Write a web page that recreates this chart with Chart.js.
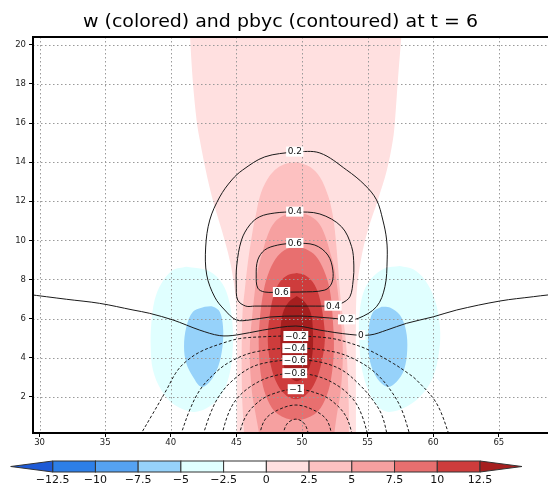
<!DOCTYPE html>
<html><head><meta charset="utf-8">
<script src="https://cdn.jsdelivr.net/npm/chart.js@4/dist/chart.umd.min.js"></script>
<style>html,body{margin:0;padding:0;overflow:hidden;background:#fff;width:548px;height:487px}
#wrap{position:relative;width:600px;height:487px}</style>
</head><body><div id="wrap"><canvas id="c" width="600" height="487"></canvas></div>
<script>
const titleText = 'w (colored) and pbyc (contoured) at t = 6';
const xTicks = [30,35,40,45,50,55,60,65];
const yTicks = [2,4,6,8,10,12,14,16,18,20];
const xRange = [29.5, 70.5];
const yRange = [0.15, 20.4];
const levelLabels = ['\u221212.5','\u221210','\u22127.5','\u22125','\u22122.5','0','2.5','5','7.5','10','12.5'];
const levelColors = ['#1e5ad6','#2d7fe8','#55a2f2','#96d2fa','#e0ffff','#ffffff','#ffe0e0','#fdc1c1','#f6a0a0','#e86f6f','#ce3c3c','#a61f1f'];

// filled w regions (x, z)
const wAbove0 = [[41.35,22.5],[41.40,21.5],[41.44,20.77],[41.67,18.21],[41.98,16.06],[42.21,15.14],[42.66,13.60],[43.20,12.07],[43.88,10.53],[44.49,9.00],[44.88,7.46],[45.03,5.93],[45.03,2.5],[45.03,0.5],[45.03,-1],[45.03,-2],[45.03,-3],[54.11,-3],[54.11,-2],[54.11,-1],[54.11,0.5],[54.11,2.5],[54.11,5.93],[54.18,7.46],[54.49,9.00],[55.02,10.53],[55.78,12.07],[56.47,13.60],[56.93,15.14],[57.08,16.06],[57.31,18.21],[57.61,20.77],[57.68,21.5],[57.75,22.5],[41.35,22.5]];
const wAbove2_5 = [[49.60,14.01],[48.69,13.91],[47.93,13.60],[47.24,12.99],[46.78,12.22],[46.48,11.30],[46.25,10.53],[45.87,8.84],[45.64,7.46],[45.48,6.44],[45.41,4.90],[45.41,2.86],[45.48,1.32],[45.60,0.0],[45.65,-1],[45.70,-2],[45.71,-3],[53.57,-3],[53.57,-2],[53.57,-1],[53.57,0.0],[53.57,1.32],[53.50,2.86],[53.34,4.90],[53.04,6.44],[52.88,7.46],[52.73,8.84],[52.50,10.53],[52.27,11.55],[51.97,12.32],[51.36,13.24],[50.60,13.76],[49.60,14.01]];
const wAbove5 = [[49.60,11.40],[48.69,11.30],[47.93,10.94],[47.39,10.28],[46.93,9.25],[46.63,8.48],[46.25,6.44],[46.02,4.39],[46.17,2.34],[46.48,1.06],[46.75,0.0],[46.85,-1],[46.90,-2],[46.93,-3],[52.20,-3],[52.25,-2],[52.35,-1],[52.45,0.0],[52.65,1.06],[52.96,2.34],[53.11,4.39],[52.88,6.44],[52.50,8.48],[52.20,9.25],[51.74,10.28],[51.21,10.94],[50.44,11.30],[49.60,11.40]];
const wAbove7_5 = [[49.60,9.66],[48.84,9.56],[48.15,9.20],[47.54,8.48],[47.09,7.46],[46.78,5.93],[46.71,4.39],[46.93,2.86],[47.39,1.83],[48.15,1.12],[49.53,0.81],[50.98,1.12],[51.74,1.83],[52.20,2.86],[52.43,4.39],[52.35,5.93],[52.12,7.46],[51.66,8.48],[51.05,9.20],[50.29,9.56],[49.60,9.66]];
const wAbove10 = [[49.60,8.33],[48.92,8.23],[48.31,7.87],[47.85,7.21],[47.54,6.18],[47.39,4.90],[47.62,3.62],[48.15,2.60],[48.84,2.04],[49.53,1.88],[50.21,2.04],[50.90,2.60],[51.44,3.62],[51.74,4.90],[51.59,6.18],[51.28,7.21],[50.82,7.87],[50.21,8.23],[49.60,8.33]];
const wAbove12_5 = [[49.60,7.15],[48.99,6.85],[48.54,6.28],[48.38,5.52],[48.38,4.39],[48.61,3.57],[49.07,3.01],[49.60,2.80],[50.14,3.01],[50.60,3.57],[50.82,4.39],[50.82,5.52],[50.67,6.28],[50.21,6.85],[49.60,7.15]];
const wBelowM2_5Left = [[41.19,8.65],[40.17,8.48],[39.28,7.80],[38.77,6.95],[38.52,5.77],[38.47,4.56],[38.64,3.37],[39.28,2.34],[40.30,1.58],[41.69,1.23],[42.72,1.41],[43.73,2.00],[44.36,2.86],[44.70,4.22],[44.70,5.76],[44.36,7.12],[43.73,7.97],[42.72,8.48],[41.19,8.65]];
const wBelowM5Left = [[42.59,6.61],[41.69,6.35],[41.19,5.58],[41.01,4.56],[41.19,3.71],[41.69,3.03],[42.33,2.51],[42.97,2.77],[43.60,3.53],[43.94,4.56],[43.98,5.58],[43.73,6.35],[43.22,6.61],[42.59,6.61]];
const wBelowM2_5Right = [[57.46,8.69],[56.32,8.57],[55.30,8.06],[54.66,7.29],[54.36,6.09],[54.36,4.90],[54.54,3.53],[55.04,2.34],[55.81,1.49],[56.57,1.23],[57.71,1.41],[58.99,2.00],[60.00,3.03],[60.46,4.39],[60.51,5.58],[60.13,6.95],[59.37,7.97],[58.48,8.52],[57.46,8.69]];
const wBelowM5Right = [[56.06,6.61],[55.42,6.35],[55.10,5.58],[55.04,4.56],[55.30,3.53],[55.93,2.77],[56.57,2.51],[57.21,2.77],[57.77,3.37],[58.02,4.39],[57.92,5.41],[57.46,6.18],[56.70,6.57],[56.06,6.61]];

// pbyc contour lines (x, z)
const pbyc0 = [[29.0,7.25],[32.04,6.99],[34.58,6.78],[37.12,6.44],[38.39,6.27],[40.17,5.93],[41.19,5.67],[42.21,5.41],[43.73,5.13],[45.00,5.16],[47.01,5.41],[49.53,5.62],[51.36,5.41],[53.65,5.19],[55.17,5.16],[56.45,5.41],[57.97,5.76],[60.00,6.09],[61.79,6.44],[65.09,6.90],[67.63,7.12],[68.75,7.21],[71.0,7.36]];
const pbycP02 = [[49.45,14.54],[51.36,14.47],[53.40,13.60],[54.79,12.83],[55.68,12.07],[56.16,11.04],[56.45,10.02],[56.49,9.00],[56.32,7.63],[55.68,6.61],[54.28,6.01],[53.40,5.96],[52.12,6.03],[49.83,6.13],[47.54,6.08],[46.02,5.93],[45.00,5.93],[44.11,6.44],[43.35,7.10],[42.74,8.23],[42.66,9.66],[42.97,11.04],[43.73,12.22],[44.65,13.09],[45.48,13.60],[47.16,14.27],[49.45,14.54]];
const pbycP04 = [[49.45,11.47],[51.36,11.35],[53.01,10.70],[53.78,9.68],[53.95,8.74],[53.90,7.97],[53.65,7.12],[53.01,6.78],[52.37,6.66],[50.60,6.64],[48.31,6.64],[46.40,6.64],[45.71,6.64],[45.10,6.95],[44.99,7.72],[45.03,8.74],[45.39,10.02],[46.02,10.79],[46.78,11.21],[47.93,11.40],[49.45,11.47]];
const pbycP06 = [[49.45,9.87],[50.98,9.76],[51.97,9.25],[52.35,8.48],[52.27,7.82],[51.74,7.46],[49.83,7.36],[48.44,7.36],[47.16,7.36],[46.63,7.56],[46.51,8.23],[46.63,9.00],[47.16,9.51],[48.15,9.76],[49.45,9.87]];
const pbycM02 = [[37.46,-0.2],[38.64,1.15],[39.66,2.34],[40.37,3.21],[41.01,3.72],[42.21,4.29],[43.98,4.75],[45.26,4.98],[47.03,5.07],[49.53,5.11],[52.12,5.00],[53.65,4.75],[55.10,4.39],[56.95,3.71],[58.07,3.21],[58.73,2.86],[60.26,1.66],[61.35,-0.2]];
const pbycM04 = [[40.63,-0.2],[41.44,1.32],[42.21,2.34],[43.20,3.11],[44.49,3.78],[46.40,4.29],[49.45,4.49],[52.50,4.29],[54.41,3.78],[55.78,3.11],[56.85,2.24],[57.61,1.32],[58.33,-0.2]];
const pbycM06 = [[42.34,-0.2],[42.97,1.06],[43.58,1.93],[44.49,2.70],[46.02,3.47],[47.54,3.78],[49.45,3.88],[51.36,3.78],[53.04,3.37],[54.41,2.60],[55.40,1.83],[56.09,1.06],[56.58,-0.2]];
const pbycM08 = [[43.79,-0.2],[44.34,1.06],[44.95,1.83],[46.02,2.50],[47.54,3.01],[49.45,3.21],[51.36,3.01],[52.88,2.50],[53.95,1.83],[54.56,1.06],[55.12,-0.2]];
const pbycM10 = [[45.09,-0.2],[45.64,0.91],[46.40,1.58],[47.54,2.09],[49.53,2.39],[51.51,2.09],[52.65,1.58],[53.42,0.91],[53.94,-0.2]];
const pbycM12 = [[46.66,-0.2],[47.16,0.81],[48.15,1.32],[49.53,1.58],[50.90,1.32],[51.89,0.81],[52.37,-0.2]];
const pbycM14 = [[48.45,-0.2],[48.84,0.60],[49.53,0.86],[50.21,0.60],[50.60,-0.2]];

const labelText = ['0.2','0.2','0.4','0.4','0.6','0.6','0','\u22120.2','\u22120.4','\u22120.6','\u22120.8','\u22121'];
const labelX = [49.45,53.40,49.45,52.37,49.45,48.44,54.49,49.53,49.45,49.45,49.45,49.53];
const labelY = [14.54,5.96,11.47,6.66,9.87,7.36,5.16,5.11,4.49,3.88,3.21,2.39];

const toPts = a => a.map(p => ({x: p[0], y: p[1]}));
const fillRegions = [
  [wAbove0, 6], [wAbove2_5, 7], [wAbove5, 8], [wAbove7_5, 9], [wAbove10, 10], [wAbove12_5, 11],
  [wBelowM2_5Left, 4], [wBelowM5Left, 3], [wBelowM2_5Right, 4], [wBelowM5Right, 3]
];
const contourLines = [
  [pbycP02, false], [pbycP04, false], [pbycP06, false], [pbyc0, false],
  [pbycM02, true], [pbycM04, true], [pbycM06, true], [pbycM08, true], [pbycM10, true], [pbycM12, true], [pbycM14, true]
];

const datasets = [];
fillRegions.forEach((r, i) => {
  datasets.push({data: toPts(r[0]), fill: 'shape', backgroundColor: levelColors[r[1]], borderWidth: 0,
    pointRadius: 0, tension: 0.35, order: 100 - i, gridAfter: i === fillRegions.length - 1});
});
contourLines.forEach((c, i) => {
  datasets.push({data: toPts(c[0]), fill: false, borderColor: '#1a1a1a', borderWidth: 1,
    borderDash: c[1] ? [3, 2] : [], pointRadius: 0, tension: 0.35, order: 50 - i});
});

const FONT = 'DejaVu Sans';
const decor = {
  id: 'decor',
  afterDatasetDraw(chart, args) {
    const ds = chart.data.datasets[args.index];
    if (!ds.gridAfter) return;
    const {ctx, chartArea: a, scales: {x, y}} = chart;
    ctx.save();
    ctx.strokeStyle = '#9a9a9a'; ctx.lineWidth = 1; ctx.setLineDash([1.5, 2.5]);
    ctx.beginPath();
    xTicks.forEach(v => { const px = Math.round(x.getPixelForValue(v)) + 0.5; ctx.moveTo(px, a.top); ctx.lineTo(px, a.bottom); });
    yTicks.forEach(v => { const py = Math.round(y.getPixelForValue(v)) + 0.5; ctx.moveTo(a.left, py); ctx.lineTo(a.right, py); });
    ctx.stroke();
    ctx.restore();
  },
  afterDatasetsDraw(chart) {
    const {ctx, chartArea: a, scales: {x, y}} = chart;
    ctx.save();
    ctx.font = '9px ' + FONT;
    ctx.textAlign = 'center'; ctx.textBaseline = 'middle';
    labelText.forEach((t, i) => {
      const px = x.getPixelForValue(labelX[i]), py = y.getPixelForValue(labelY[i]);
      const w = ctx.measureText(t).width;
      ctx.fillStyle = '#fff';
      ctx.fillRect(px - w / 2 - 1.5, py - 5, w + 3, 10);
      ctx.fillStyle = '#111';
      ctx.fillText(t, px, py + 0.5);
    });
    ctx.strokeStyle = '#000'; ctx.lineWidth = 2; ctx.setLineDash([]);
    ctx.strokeRect(a.left, a.top, a.right - a.left, a.bottom - a.top);
    ctx.restore();
  },
  afterDraw(chart) {
    const {ctx} = chart;
    ctx.save();
    ctx.font = '17px ' + FONT;
    ctx.fillStyle = '#000';
    ctx.textBaseline = 'alphabetic';
    const tw = ctx.measureText(titleText).width;
    const target = 395;
    ctx.translate(83, 27);
    ctx.scale(target / tw, 1);
    ctx.fillText(titleText, 0, 0);
    ctx.restore();
    ctx.save();
    const x0 = 52.7, bw = 42.73, y0 = 461, bh = 11, tri = 42;
    const nBox = levelLabels.length - 1;
    ctx.strokeStyle = '#333'; ctx.lineWidth = 1;
    for (let k = 0; k < nBox; k++) {
      ctx.fillStyle = levelColors[k + 1];
      ctx.fillRect(x0 + k * bw, y0, bw, bh);
      ctx.strokeRect(x0 + k * bw, y0, bw, bh);
    }
    ctx.beginPath(); ctx.moveTo(x0, y0); ctx.lineTo(x0 - tri, y0 + bh / 2); ctx.lineTo(x0, y0 + bh); ctx.closePath();
    ctx.fillStyle = levelColors[0]; ctx.fill(); ctx.stroke();
    const xe = x0 + nBox * bw;
    ctx.beginPath(); ctx.moveTo(xe, y0); ctx.lineTo(xe + tri, y0 + bh / 2); ctx.lineTo(xe, y0 + bh); ctx.closePath();
    ctx.fillStyle = levelColors[11]; ctx.fill(); ctx.stroke();
    ctx.font = '11px ' + FONT; ctx.fillStyle = '#111'; ctx.textAlign = 'center'; ctx.textBaseline = 'middle';
    levelLabels.forEach((t, k) => ctx.fillText(t, x0 + k * bw, 480));
    ctx.restore();
  }
};

new Chart(document.getElementById('c'), {
  type: 'line',
  data: {datasets},
  options: {
    responsive: false, animation: false, events: [], devicePixelRatio: 1,
    layout: {padding: {left: 0, right: 29, top: 37, bottom: 30}},
    elements: {line: {capBezierPoints: false}},
    plugins: {legend: {display: false}, tooltip: {enabled: false}, title: {display: false}},
    scales: {
      x: {type: 'linear', min: xRange[0], max: xRange[1],
        afterBuildTicks: s => { s.ticks = xTicks.map(v => ({value: v})); },
        afterFit: s => { s.height = 24; },
        grid: {drawOnChartArea: false, drawTicks: true, tickLength: 4, tickColor: '#000', tickWidth: 1},
        border: {display: false},
        ticks: {font: {size: 8.5, family: FONT}, color: '#222', padding: 1, maxRotation: 0, autoSkip: false}},
      y: {type: 'linear', min: yRange[0], max: yRange[1],
        afterBuildTicks: s => { s.ticks = yTicks.map(v => ({value: v})); },
        afterFit: s => { s.width = 33; },
        grid: {drawOnChartArea: false, drawTicks: true, tickLength: 4, tickColor: '#000', tickWidth: 1},
        border: {display: false},
        ticks: {font: {size: 8.5, family: FONT}, color: '#222', padding: 3, autoSkip: false}}
    }
  },
  plugins: [decor]
});
</script></body></html>
